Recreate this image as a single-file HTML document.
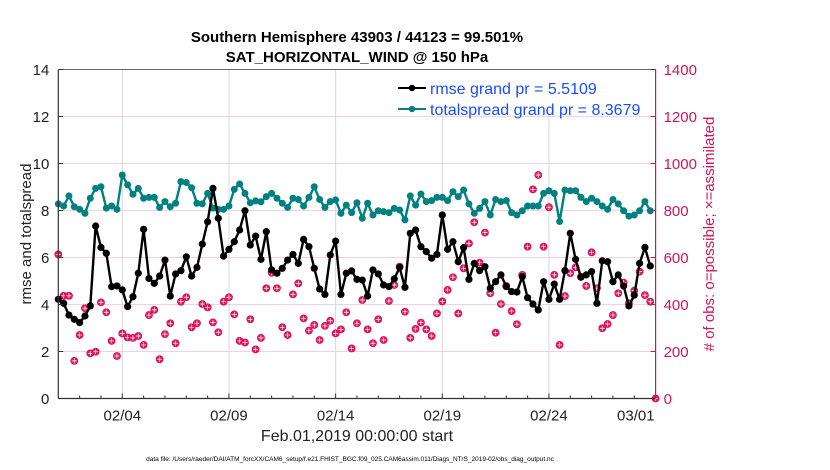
<!DOCTYPE html>
<html><head><meta charset="utf-8">
<style>
html,body{margin:0;padding:0;background:#fff;}
svg{display:block;font-family:"Liberation Sans",Arial,sans-serif;}
</style></head>
<body>
<svg id="chart" width="830" height="470" viewBox="0 0 830 470">
<rect x="0" y="0" width="830" height="470" fill="#fff"/>
<g id="grid"></g>
<g id="obs"></g>
<g id="series"></g>
<g id="axes"></g>
<text x="357" y="42" text-anchor="middle" font-size="15" font-weight="bold" fill="#000">Southern Hemisphere 43903 / 44123 = 99.501%</text>
<text x="357" y="62" text-anchor="middle" font-size="15" font-weight="bold" fill="#000">SAT_HORIZONTAL_WIND @ 150 hPa</text>
<text transform="translate(31,234) rotate(-90)" text-anchor="middle" font-size="15" fill="#222">rmse and totalspread</text>
<text transform="translate(714,234) rotate(-90)" text-anchor="middle" font-size="15" fill="#d0145a"># of obs: o=possible; ×=assimilated</text>
<text x="357" y="441" text-anchor="middle" font-size="16" fill="#222">Feb.01,2019 00:00:00 start</text>
<text x="350" y="461" text-anchor="middle" font-size="6.5" fill="#000">data file: /Users/raeder/DAI/ATM_forcXX/CAM6_setup/f.e21.FHIST_BGC.f09_025.CAM6assim.011/Diags_NTrS_2019-02/obs_diag_output.nc</text>
<g id="legend">
<rect x="384" y="70" width="271" height="45" fill="#fff" stroke="none"/>
<g>
<line x1="398" y1="88" x2="426" y2="88" stroke="#000" stroke-width="2"/>
<circle cx="412" cy="88" r="3.2" fill="#000"/>
<text x="430" y="94" font-size="16" fill="#1a4cff">rmse grand pr = 5.5109</text>
</g>
<g>
<line x1="398" y1="109" x2="426" y2="109" stroke="#008080" stroke-width="2"/>
<circle cx="412" cy="109" r="3.2" fill="#008080"/>
<text x="430" y="115" font-size="16" fill="#1a4cff">totalspread grand pr = 8.3679</text>
</g>
</g>
</svg>
<script>
const rmse = [4.22,4.05,3.55,3.37,3.23,3.51,3.94,7.34,6.43,6.18,4.76,4.79,4.62,3.91,4.33,5.33,7.2,5.11,4.9,5.21,5.89,4.36,5.3,5.44,6.03,5.21,5.58,6.57,7.52,8.94,7.67,6.06,6.35,6.67,7.17,7.99,6.53,6.91,5.92,
7.1,5.47,5.33,5.54,5.89,6.13,5.75,6.77,6.46,5.54,4.66,4.43,6.11,6.70,4.43,5.33,5.43,5.07,5.04,4.36,5.47,5.30,4.83,4.76,5.09,5.58,4.73,7.03,7.17,6.46,6.25,5.97,6.13,7.81,6.35,6.67,5.82,
6.42,5.07,5.75,5.44,5.61,4.69,4.97,5.26,4.76,4.55,4.53,5.18,4.29,4.02,3.77,4.97,4.22,4.87,4.22,5.44,7.03,5.92,5.16,5.26,5.40,4.05,5.86,5.82,4.97,5.26,4.79,3.94,4.40,5.75,6.43,5.64];
const spread = [8.28,8.19,8.62,8.16,8.05,7.88,8.52,8.94,9.01,8.1,8.19,8.05,9.51,9.09,8.69,8.94,8.52,8.56,8.56,8.13,8.38,8.16,8.31,9.23,9.19,8.97,8.31,8.28,8.73,8.1,8.05,8.05,8.19,8.9,9.13,8.73,8.33,8.41,8.37,
8.59,8.73,8.52,8.31,8.13,8.52,8.47,8.19,8.56,9.01,8.47,8.13,8.38,8.45,7.88,8.23,7.91,8.33,7.67,8.31,7.81,7.99,7.95,7.91,8.09,8.02,7.6,8.62,8.23,8.70,8.38,8.42,8.56,8.56,8.42,8.80,8.59,
8.87,8.28,7.88,8.09,8.38,7.81,8.47,8.38,8.42,7.91,7.81,7.99,8.19,8.19,8.19,8.73,8.84,8.73,7.53,8.87,8.84,8.84,8.56,8.38,8.52,8.38,8.19,8.05,8.47,8.28,7.99,7.76,7.81,7.99,8.38,7.99];
const obsCount = [613,437,437,160,270,384,192,199,409,367,245,181,277,260,258,266,228,355,377,167,274,320,235,412,431,303,320,402,388,324,282,412,431,358,245,238,337,209,258,
469,535,469,303,270,443,490,341,289,313,249,309,331,277,294,367,213,320,419,294,235,337,249,415,483,561,369,258,296,323,294,266,362,413,462,516,362,
554,660,750,578,706,448,280,402,479,372,316,526,646,890,951,646,814,526,228,436,533,558,518,479,622,469,299,317,355,448,493,405,459,540,440,412,0];
const leftTicks = [0,2,4,6,8,10,12,14];
const rightTicks = [0,200,400,600,800,1000,1200,1400];
const xTickDays = [3,8,13,18,23,28];
const xTickLabels = ["02/04","02/09","02/14","02/19","02/24","03/01"];

const X0=58.3, X1=655.6, Y0=398.5, Y1=69.5, NDAYS=28, STEP=0.25;
const xs = d => X0 + (X1-X0)*d/NDAYS;
const yL = v => Y0 - (Y0-Y1)*v/14;
const yR = v => Y0 - (Y0-Y1)*v/1400;
const NS='http://www.w3.org/2000/svg';
function mk(tag, attrs, parent){const e=document.createElementNS(NS,tag);for(const k in attrs)e.setAttribute(k,attrs[k]);parent.appendChild(e);return e;}
const grid=document.getElementById('grid'), axes=document.getElementById('axes'), obs=document.getElementById('obs'), ser=document.getElementById('series');

leftTicks.forEach(v=>{
  if(v>0&&v<14){const l=mk('line',{x1:X0,x2:X1,y1:yL(v),y2:yL(v),stroke:'#f6cfe0','stroke-width':1},grid);
  
  }
  const t=mk('text',{x:X0-9,y:yL(v)+5.5,'text-anchor':'end','font-size':15,fill:'#222'},axes);t.textContent=v;
  
  
  mk('line',{x1:X0,x2:X0+5,y1:yL(v),y2:yL(v),stroke:'#333'},axes);
});
rightTicks.forEach(v=>{
  const t=mk('text',{x:X1+8,y:yR(v)+5.5,'font-size':15,fill:'#d0145a'},axes);t.textContent=v;
  
  
  mk('line',{x1:X1-5,x2:X1,y1:yR(v),y2:yR(v),stroke:'#d0145a'},axes);
});
xTickDays.forEach((d,i)=>{
  if(d<NDAYS){const g=mk('line',{x1:xs(d),x2:xs(d),y1:Y1,y2:Y0,stroke:'#d8d8d8'},grid);
  
  }
  const t=mk('text',{x:d<NDAYS?xs(d):xs(d)-1,y:Y0+22,'text-anchor':d<NDAYS?'middle':'end','font-size':15,fill:'#222'},axes);
  t.textContent=xTickLabels[i];
  
  
});
for(let d=1;d<NDAYS;d++){mk('line',{x1:xs(d),x2:xs(d),y1:Y0,y2:Y0-(xTickDays.includes(d)?5:3),stroke:'#333'},axes);}
mk('line',{x1:X0,x2:X1,y1:Y0,y2:Y0,stroke:'#333','stroke-width':1.2},axes);
mk('line',{x1:X0,x2:X0,y1:Y0,y2:Y1,stroke:'#333','stroke-width':1.2},axes);
mk('line',{x1:X1,x2:X1,y1:Y0,y2:Y1,stroke:'#d0145a','stroke-width':1.2},axes);
mk('line',{x1:X0,x2:X1,y1:Y1,y2:Y1,stroke:'#333','stroke-width':0.8},axes);

obsCount.forEach((v,i)=>{
  const cx=xs(i*STEP), cy=yR(v);
  const c=mk('circle',{cx:cx,cy:cy,r:3.6,fill:'#e8145f',stroke:'#c0104e','stroke-width':0.6},obs);
  
  
  mk('path',{d:`M${cx-2.5},${cy}H${cx+2.5}M${cx},${cy-2.5}V${cy+2.5}`,stroke:'#fff','stroke-width':0.7},obs);
});

function drawLine(arr,color,name,r){
  const pts=arr.map((v,i)=>xs(i*STEP).toFixed(1)+','+yL(v).toFixed(1)).join(' ');
  const pl=mk('polyline',{points:pts,fill:'none',stroke:color,'stroke-width':2.4,'stroke-linejoin':'round'},ser);
  
  
  arr.forEach((v,i)=>{
    const c=mk('circle',{cx:xs(i*STEP),cy:yL(v),r:r,fill:color},ser);
    
    
  });
}
drawLine(spread,'#008080','totalspread',3.5);
drawLine(rmse,'#000','rmse',3.6);
</script>
</body></html>
